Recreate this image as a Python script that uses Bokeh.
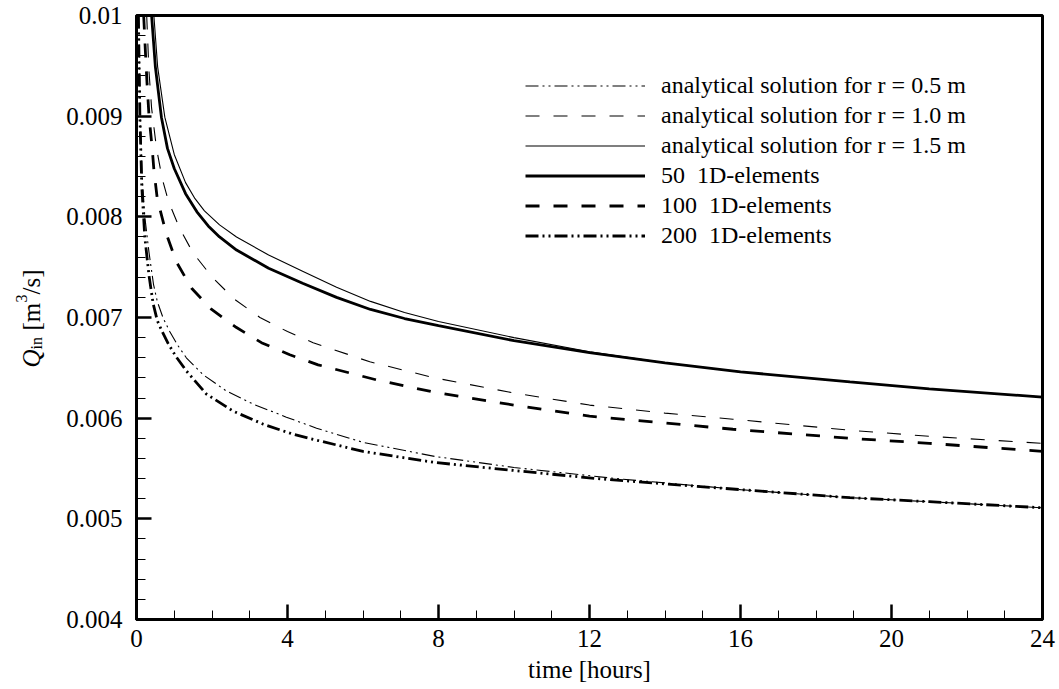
from bokeh.plotting import figure
from bokeh.layouts import row
from bokeh.models import (Range1d, FixedTicker, Legend, LegendItem, Label)
from bokeh.embed import file_html
from bokeh.resources import INLINE
import math

# ---------------- data ----------------
t_r05 = [0.06, 0.10, 0.15, 0.22, 0.33, 0.45, 0.55, 0.70, 0.88, 1.1, 1.32, 1.77, 2.38, 3.09, 3.97,
         4.77, 6.0, 7.9, 10.0, 12.7, 16.0, 18.9, 21.0, 24.0]
q_r05 = [0.01000, 0.00900, 0.00840, 0.00800, 0.00765, 0.00733, 0.00716, 0.00700, 0.00686, 0.00672,
         0.00660, 0.00643, 0.00627, 0.00614, 0.00601, 0.00590, 0.00576, 0.00562, 0.00551, 0.00540,
         0.00529, 0.00521, 0.00517, 0.00511]

t_r10 = [0.27, 0.33, 0.40, 0.53, 0.68, 0.85, 1.15, 1.5, 2.03, 2.6, 3.27, 4.0, 4.68, 6.18, 7.9, 10.0,
         12.0, 14.0, 15.8, 18.9, 21.0, 24.0]
q_r10 = [0.01000, 0.00945, 0.00908, 0.00868, 0.00838, 0.00815, 0.00788, 0.00764, 0.00739, 0.00718,
         0.00700, 0.00686, 0.00675, 0.00656, 0.00640, 0.00625, 0.00613, 0.00605, 0.00599, 0.00588,
         0.00582, 0.00575]

t_r15 = [0.46, 0.56, 0.75, 1.0, 1.3, 1.55, 1.8, 2.2, 2.65, 3.5, 4.4, 5.3, 6.2, 7.1, 8.0, 10.0, 12.0,
         14.0, 16.0, 18.9, 21.0, 24.0]
q_r15 = [0.01000, 0.00949, 0.00899, 0.00862, 0.00834, 0.00818, 0.00806, 0.00792, 0.00780, 0.00762,
         0.00746, 0.00730, 0.00716, 0.00705, 0.00696, 0.00680, 0.00666, 0.00655, 0.00646, 0.00636,
         0.00629, 0.00621]

t_e50 = [0.40, 0.50, 0.66, 0.82, 1.0, 1.3, 1.6, 1.9, 2.2, 2.65, 3.5, 4.4, 5.3, 6.2, 7.1, 8.0, 10.0,
         12.0, 14.0, 16.0, 18.9, 21.0, 24.0]
q_e50 = [0.01000, 0.00949, 0.00899, 0.00868, 0.00848, 0.00823, 0.00805, 0.00791, 0.00780, 0.00767,
         0.00749, 0.00734, 0.00720, 0.00708, 0.00699, 0.00692, 0.00677, 0.00665, 0.00655, 0.00646,
         0.00636, 0.00629, 0.00621]

t_e100 = [0.19, 0.24, 0.28, 0.33, 0.42, 0.46, 0.55, 0.79, 1.06, 1.46, 1.99, 2.65, 3.31, 4.06,
          4.81, 6.36, 7.86, 10.0, 12.0, 15.8, 18.9, 21.0, 24.0]
q_e100 = [0.01000, 0.00961, 0.00932, 0.00901, 0.00866, 0.00847, 0.00818, 0.00783, 0.00755, 0.00729,
          0.00708, 0.00690, 0.00675, 0.00663, 0.00653, 0.00638, 0.00626, 0.00613, 0.00602, 0.00589,
          0.00580, 0.00575, 0.00567]

t_e200 = [0.05, 0.09, 0.14, 0.22, 0.33, 0.44, 0.55, 0.68, 0.84, 1.05, 1.32, 1.85, 2.56, 3.36, 4.15,
          4.68, 6.0, 7.9, 10.0, 12.2, 16.0, 18.9, 21.0, 24.0]
q_e200 = [0.01000, 0.00900, 0.00830, 0.00780, 0.00742, 0.00714, 0.00697, 0.00686, 0.00674, 0.00661,
          0.00647, 0.00624, 0.00607, 0.00594, 0.00584, 0.00579, 0.00567, 0.00556, 0.00548, 0.00540,
          0.00529, 0.00521, 0.00517, 0.00511]

labels = ["analytical solution for r = 0.5 m",
          "analytical solution for r = 1.0 m",
          "analytical solution for r = 1.5 m",
          "50  1D-elements",
          "100  1D-elements",
          "200  1D-elements"]

x_ticks = [0, 4, 8, 12, 16, 20, 24]
x_minor = [i for i in range(0, 25)]
y_ticks = [0.004, 0.005, 0.006, 0.007, 0.008, 0.009, 0.01]
y_tick_labels = ["0.004", "0.005", "0.006", "0.007", "0.008", "0.009", "0.01"]
y_minor = [0.004 + 0.0002 * i for i in range(31)]

FONT = "Liberation Serif"
W, H = 1059, 689
LW = 62  # width of the strip that carries the y-axis title

# ---------------- main plot ----------------
p = figure(width=W - LW, height=H, output_backend="svg", toolbar_location=None,
           x_range=Range1d(0, 24), y_range=Range1d(0.004, 0.01),
           min_border_left=136 - LW, min_border_right=17, min_border_top=15, min_border_bottom=70)
p.background_fill_color = "white"
p.border_fill_color = "white"
p.outline_line_color = "black"
p.outline_line_width = 3
p.xgrid.visible = False
p.ygrid.visible = False

for ax in (p.xaxis[0], p.yaxis[0]):
    ax.axis_line_width = 3
    ax.axis_line_color = "black"
    ax.major_tick_in = 15
    ax.major_tick_out = 0
    ax.minor_tick_in = 9
    ax.minor_tick_out = 0
    ax.major_tick_line_width = 2.5
    ax.minor_tick_line_width = 1
    ax.major_tick_line_color = "black"
    ax.minor_tick_line_color = "black"
    ax.major_label_text_font = FONT
    ax.major_label_text_font_size = "25px"
    ax.major_label_text_color = "black"

p.xaxis[0].ticker = FixedTicker(ticks=x_ticks, minor_ticks=x_minor)
p.yaxis[0].ticker = FixedTicker(ticks=y_ticks, minor_ticks=y_minor)
p.yaxis[0].major_label_overrides = {v: s for v, s in zip(y_ticks, y_tick_labels)}
p.xaxis[0].major_label_standoff = 10
p.yaxis[0].major_label_standoff = 14
p.xaxis[0].axis_label = "time [hours]"
p.xaxis[0].axis_label_text_font = FONT
p.xaxis[0].axis_label_text_font_size = "25px"
p.xaxis[0].axis_label_text_font_style = "normal"
p.xaxis[0].axis_label_text_color = "black"
p.xaxis[0].axis_label_standoff = 6

DASH = "14 14"
DDOT = "13 4 2 4 2 4"
r1 = p.line(t_r05, q_r05, line_color="black", line_width=1.1, line_dash=DDOT)
r2 = p.line(t_r10, q_r10, line_color="black", line_width=1.1, line_dash=DASH)
r3 = p.line(t_r15, q_r15, line_color="black", line_width=1.1)
r4 = p.line(t_e50, q_e50, line_color="black", line_width=2.8)
r5 = p.line(t_e100, q_e100, line_color="black", line_width=2.8, line_dash=DASH)
r6 = p.line(t_e200, q_e200, line_color="black", line_width=2.8, line_dash=DDOT)

items = [LegendItem(label=l, renderers=[r]) for l, r in zip(labels, [r1, r2, r3, r4, r5, r6])]
legend = Legend(items=items, location=(389, 370.5), orientation="vertical",
                glyph_width=120, glyph_height=25, label_height=25, spacing=3,
                label_standoff=16, padding=0, margin=0,
                border_line_color=None, background_fill_alpha=0,
                label_text_font=FONT, label_text_font_size="24px", label_text_color="black")
p.add_layout(legend, "center")

# ---------------- strip with the y-axis title: Q_in [m^3/s] ----------------
s = figure(width=LW, height=H, output_backend="svg", toolbar_location=None, title=None,
           x_range=Range1d(0, LW), y_range=Range1d(0, H),
           x_axis_type=None, y_axis_type=None,
           min_border_left=0, min_border_right=0, min_border_top=0, min_border_bottom=0)
s.outline_line_color = None
s.background_fill_color = "white"
s.border_fill_color = "white"
s.xgrid.visible = False
s.ygrid.visible = False

def ylab(text, x, y, size, style="normal"):
    s.add_layout(Label(x=x, y=y, x_units="screen", y_units="screen", text=text,
                       angle=math.pi / 2, text_font=FONT, text_font_size=size,
                       text_font_style=style, text_color="black",
                       text_baseline="alphabetic", text_align="left"))

# the strip's frame is aligned with the main frame: y measured upward from its bottom
ylab("Q", 31, 252, "25px", "italic")
ylab("in", 36, 270, "16px")
ylab("[m", 31, 289, "25px")
ylab("3", 21, 317, "16px")
ylab("/s]", 31, 325, "25px")

layout = row(s, p, spacing=0)
open("out.html", "w").write(file_html(layout, INLINE))
